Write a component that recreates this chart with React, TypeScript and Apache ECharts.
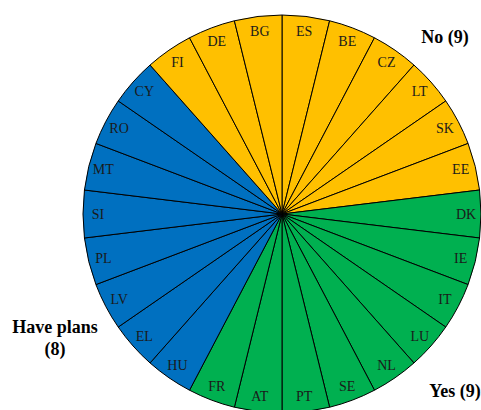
import React, { useEffect, useRef } from "react";
import * as echarts from "echarts";

// Countries in clockwise drawing order, starting at 12 o'clock
const countries = [
  "ES", "BE", "CZ", "LT", "SK", "EE",
  "DK", "IE", "IT", "LU", "NL", "SE", "PT", "AT", "FR",
  "HU", "EL", "LV", "PL", "SI", "MT", "RO", "CY",
  "FI", "DE", "BG",
];
// Each country is an equal slice
const sliceValues = [1, 1, 1, 1, 1, 1, 1, 1, 1, 1, 1, 1, 1, 1, 1, 1, 1, 1, 1, 1, 1, 1, 1, 1, 1, 1];

const noGroup = ["FI", "DE", "BG", "ES", "BE", "CZ", "LT", "SK", "EE"];
const yesGroup = ["DK", "IE", "IT", "LU", "NL", "SE", "PT", "AT", "FR"];
const plansGroup = ["HU", "EL", "LV", "PL", "SI", "MT", "RO", "CY"];

const groupLabels = {
  no: `No (${noGroup.length})`,
  yes: `Yes (${yesGroup.length})`,
  plans: `Have plans\n(${plansGroup.length})`,
};

const COLORS = { no: "#FFC000", yes: "#00B050", plans: "#0070C0" };

function colorOf(c: string) {
  if (noGroup.includes(c)) return COLORS.no;
  if (yesGroup.includes(c)) return COLORS.yes;
  return COLORS.plans;
}

const FONT = "Liberation Serif, Times New Roman, DejaVu Serif, serif";

export default function App() {
  const ref = useRef<HTMLDivElement>(null);
  useEffect(() => {
    if (!ref.current) return;
    const chart = echarts.init(ref.current, undefined, { renderer: "svg" });
    const center = [282, 214];
    const groupStyle = {
      fontFamily: FONT,
      fontWeight: "bold",
      fontSize: 18,
      fill: "#000",
      align: "center",
      verticalAlign: "middle",
    };
    chart.setOption({
      animation: false,
      textStyle: { fontFamily: FONT },
      series: [
        {
          type: "pie",
          center,
          radius: [0, 199],
          startAngle: 90,
          clockwise: true,
          silent: true,
          label: { show: false },
          labelLine: { show: false },
          emphasis: { disabled: true },
          itemStyle: { borderColor: "#000", borderWidth: 1 },
          data: countries.map((c, i) => ({
            name: c,
            value: sliceValues[i],
            itemStyle: { color: colorOf(c) },
          })),
        },
        {
          type: "pie",
          center,
          radius: [163, 199],
          startAngle: 90,
          clockwise: true,
          silent: true,
          emphasis: { disabled: true },
          itemStyle: { color: "transparent", borderWidth: 0 },
          label: {
            show: true,
            position: "inside",
            formatter: "{b}",
            fontFamily: FONT,
            fontSize: 14,
            color: "#1a1a1a",
          },
          labelLine: { show: false },
          data: countries.map((c, i) => ({ name: c, value: sliceValues[i] })),
        },
      ],
      graphic: [
        {
          type: "text",
          x: 445,
          y: 37,
          style: { ...groupStyle, text: groupLabels.no },
        },
        {
          type: "text",
          x: 455,
          y: 391,
          style: { ...groupStyle, text: groupLabels.yes },
        },
        {
          type: "text",
          x: 55,
          y: 338,
          style: { ...groupStyle, text: groupLabels.plans, lineHeight: 22 },
        },
      ],
    });
    return () => chart.dispose();
  }, []);
  return (
    <div
      ref={ref}
      style={{ position: "fixed", left: 0, top: 0, width: 481, height: 410, background: "#fff" }}
    />
  );
}
